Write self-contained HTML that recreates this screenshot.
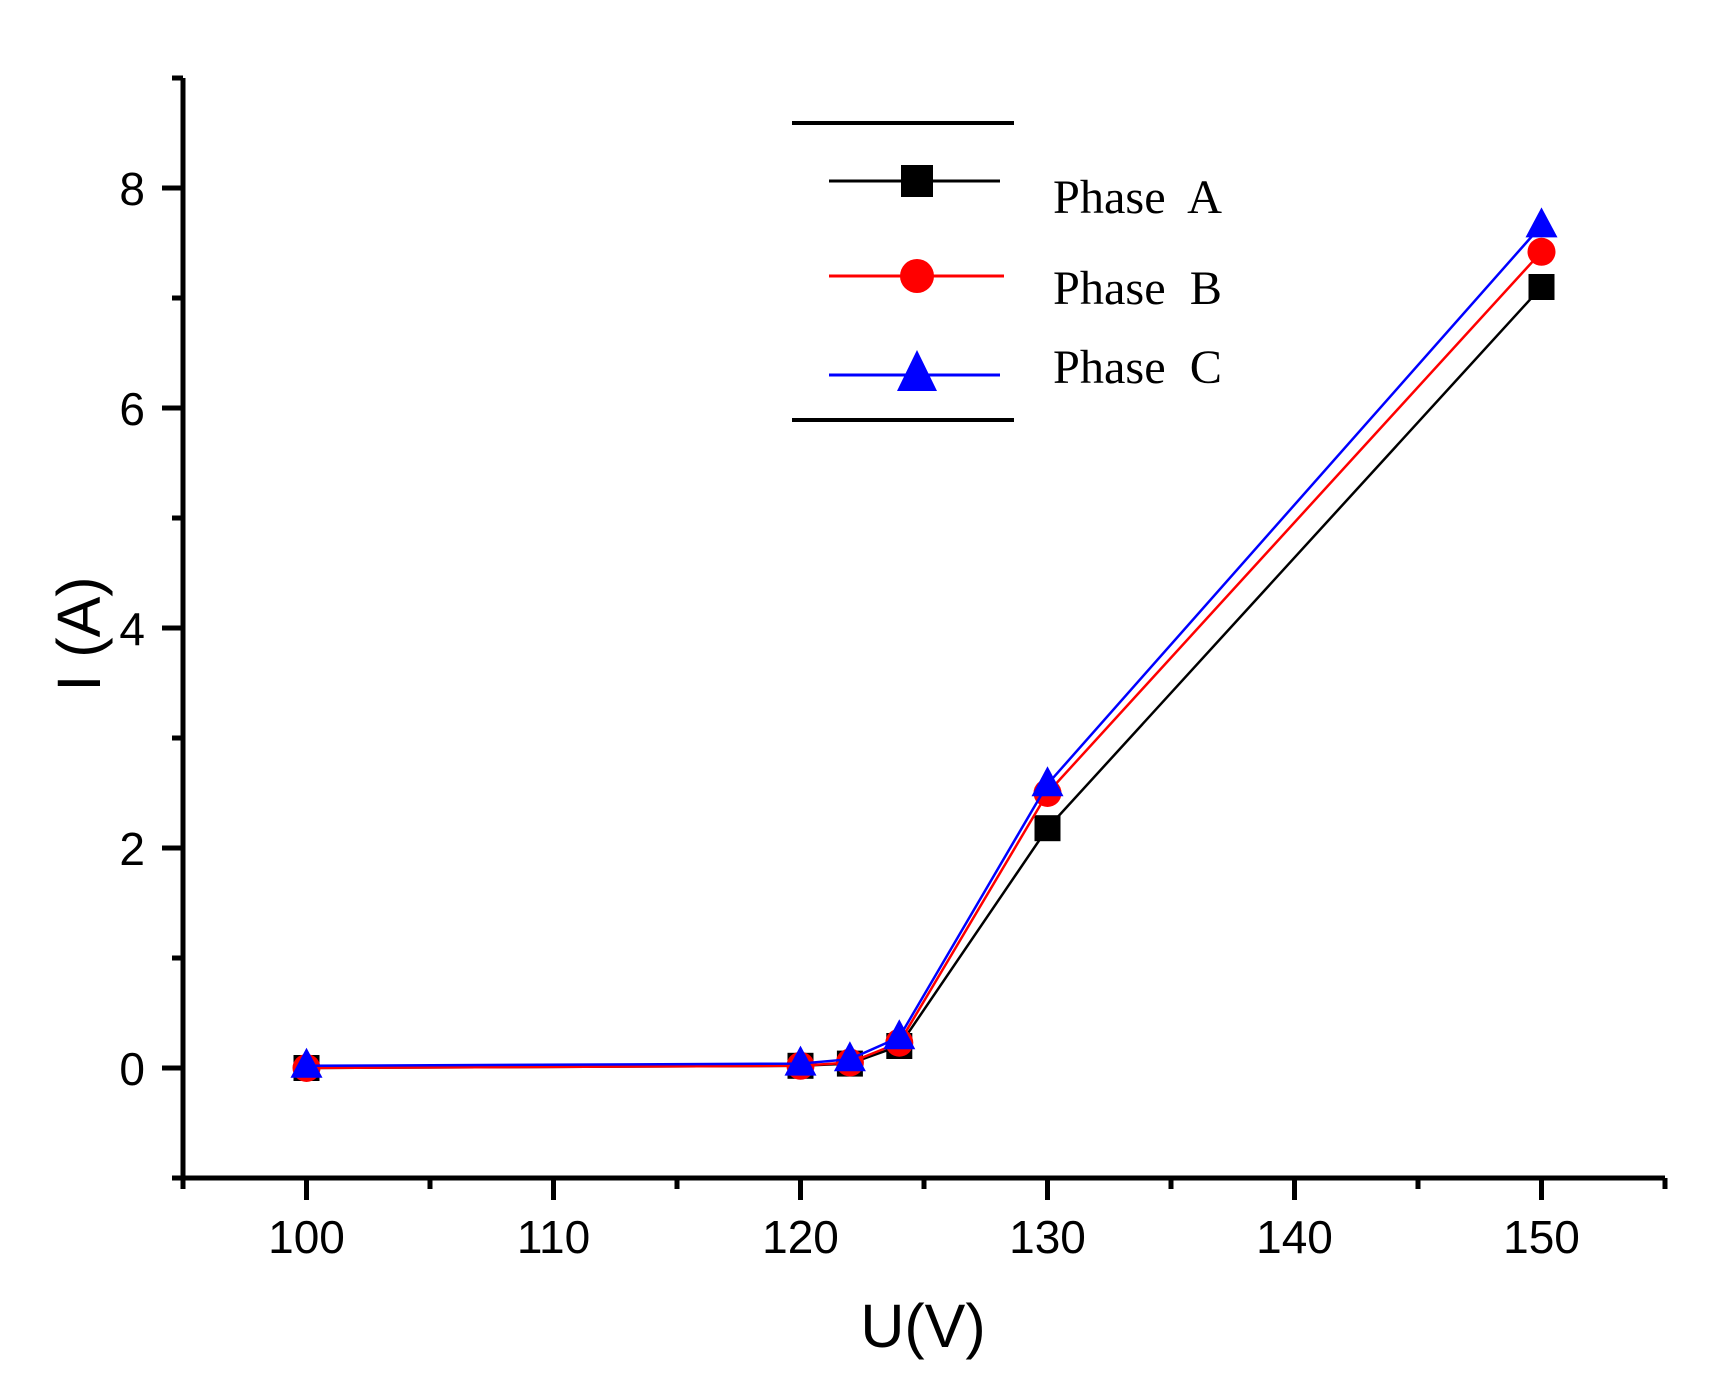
<!DOCTYPE html>
<html><head><meta charset="utf-8"><style>html,body{margin:0;padding:0;background:#fff}svg{display:block}</style></head>
<body>
<svg id="chart" width="1735" height="1396" viewBox="0 0 1735 1396" xmlns="http://www.w3.org/2000/svg">
<rect width="1735" height="1396" fill="#fff"/>
<g id="plot"></g>
<g id="axes"></g>
<text x="923" y="1347" font-family="Liberation Sans, sans-serif" font-size="61" text-anchor="middle">U(V)</text>
<text transform="translate(100,634) rotate(-90)" font-family="Liberation Sans, sans-serif" font-size="61" text-anchor="middle">I (A)</text>
<g>
<line x1="792" y1="123" x2="1014" y2="123" stroke="#000" stroke-width="4"/>
<line x1="792" y1="420" x2="1014" y2="420" stroke="#000" stroke-width="4"/>
<g>
<line x1="829" y1="181" x2="1000" y2="181" stroke="#000" stroke-width="3"/>
<rect x="901" y="165" width="32" height="32" fill="#000"/>
<text x="1053" y="213" font-family="Liberation Serif, serif" font-size="48" textLength="169" lengthAdjust="spacingAndGlyphs" xml:space="preserve">Phase  A</text>
</g>
<g>
<line x1="829" y1="276" x2="1004" y2="276" stroke="#f00" stroke-width="3"/>
<circle cx="917" cy="276" r="17" fill="#f00"/>
<text x="1053" y="304" font-family="Liberation Serif, serif" font-size="48" textLength="169" lengthAdjust="spacingAndGlyphs" xml:space="preserve">Phase  B</text>
</g>
<g>
<line x1="829" y1="375" x2="1000" y2="375" stroke="#00f" stroke-width="3"/>
<polygon points="917,350 937,391 897,391" fill="#00f"/>
<text x="1053" y="383" font-family="Liberation Serif, serif" font-size="48" textLength="169" lengthAdjust="spacingAndGlyphs" xml:space="preserve">Phase  C</text>
</g>
</g>
</svg>
<script>
const voltages = [100, 120, 122, 124, 130, 150];
const phaseA = [0, 0.02, 0.04, 0.2, 2.18, 7.1];
const phaseB = [0, 0.02, 0.05, 0.23, 2.5, 7.42];
const phaseC = [0.02, 0.04, 0.08, 0.28, 2.58, 7.66];
const xTicks = [100, 110, 120, 130, 140, 150];
const xMinorTicks = [95, 105, 115, 125, 135, 145, 155];
const yTicks = [0, 2, 4, 6, 8];
const yMinorTicks = [-1, 1, 3, 5, 7, 9];

const NS = 'http://www.w3.org/2000/svg';
const L = 183, R = 1665, T = 78, B = 1178;
const xMin = 95, xMax = 155, yMin = -1, yMax = 9;
const sx = v => L + (v - xMin) / (xMax - xMin) * (R - L);
const sy = v => B - (v - yMin) / (yMax - yMin) * (B - T);
function mk(tag, attrs, parent) {
  const e = document.createElementNS(NS, tag);
  for (const k in attrs) e.setAttribute(k, attrs[k]);
  parent.appendChild(e);
  return e;
}
const axes = document.getElementById('axes');
const plot = document.getElementById('plot');
let e;
e = mk('line', {x1: L, y1: T, x2: L, y2: B + 2, stroke: '#000', 'stroke-width': 5}, axes);


e = mk('line', {x1: L - 2, y1: B, x2: R, y2: B, stroke: '#000', 'stroke-width': 5}, axes);


xTicks.forEach(v => {
  const t = mk('line', {x1: sx(v), y1: B, x2: sx(v), y2: B + 22, stroke: '#000', 'stroke-width': 5}, axes);
  
  
  const lb = mk('text', {x: sx(v), y: 1253, 'font-family': 'Liberation Sans, sans-serif', 'font-size': 46, 'text-anchor': 'middle'}, axes);
  lb.textContent = v;
  
  
});
xMinorTicks.forEach(v => {
  const t = mk('line', {x1: sx(v), y1: B, x2: sx(v), y2: B + 11, stroke: '#000', 'stroke-width': 5}, axes);
  
  
});
yTicks.forEach(v => {
  const t = mk('line', {x1: L - 21, y1: sy(v), x2: L, y2: sy(v), stroke: '#000', 'stroke-width': 5}, axes);
  
  
  const lb = mk('text', {x: 145, y: sy(v) + 17, 'font-family': 'Liberation Sans, sans-serif', 'font-size': 46, 'text-anchor': 'end'}, axes);
  lb.textContent = v;
  
  
});
yMinorTicks.forEach(v => {
  const t = mk('line', {x1: L - 11, y1: sy(v), x2: L, y2: sy(v), stroke: '#000', 'stroke-width': 5}, axes);
  
  
});
function series(vals, color, shape, name) {
  const g = mk('g', {}, plot);
  
  
  const pts = vals.map((v, i) => sx(voltages[i]) + ',' + sy(v)).join(' ');
  const pl = mk('polyline', {points: pts, fill: 'none', stroke: color, 'stroke-width': 2.5}, g);
  
  
  vals.forEach((v, i) => {
    const x = sx(voltages[i]), y = sy(v);
    let m;
    if (shape === 'square') m = mk('rect', {x: x - 13, y: y - 13, width: 26, height: 26, fill: color}, g);
    else if (shape === 'circle') m = mk('circle', {cx: x, cy: y, r: 14, fill: color}, g);
    else m = mk('polygon', {points: `${x},${y - 18} ${x + 16},${y + 12} ${x - 16},${y + 12}`, fill: color}, g);
    
    
  });
}
series(phaseA, '#000', 'square', 'phase-a');
series(phaseB, '#f00', 'circle', 'phase-b');
series(phaseC, '#00f', 'triangle', 'phase-c');
</script>
</body></html>
